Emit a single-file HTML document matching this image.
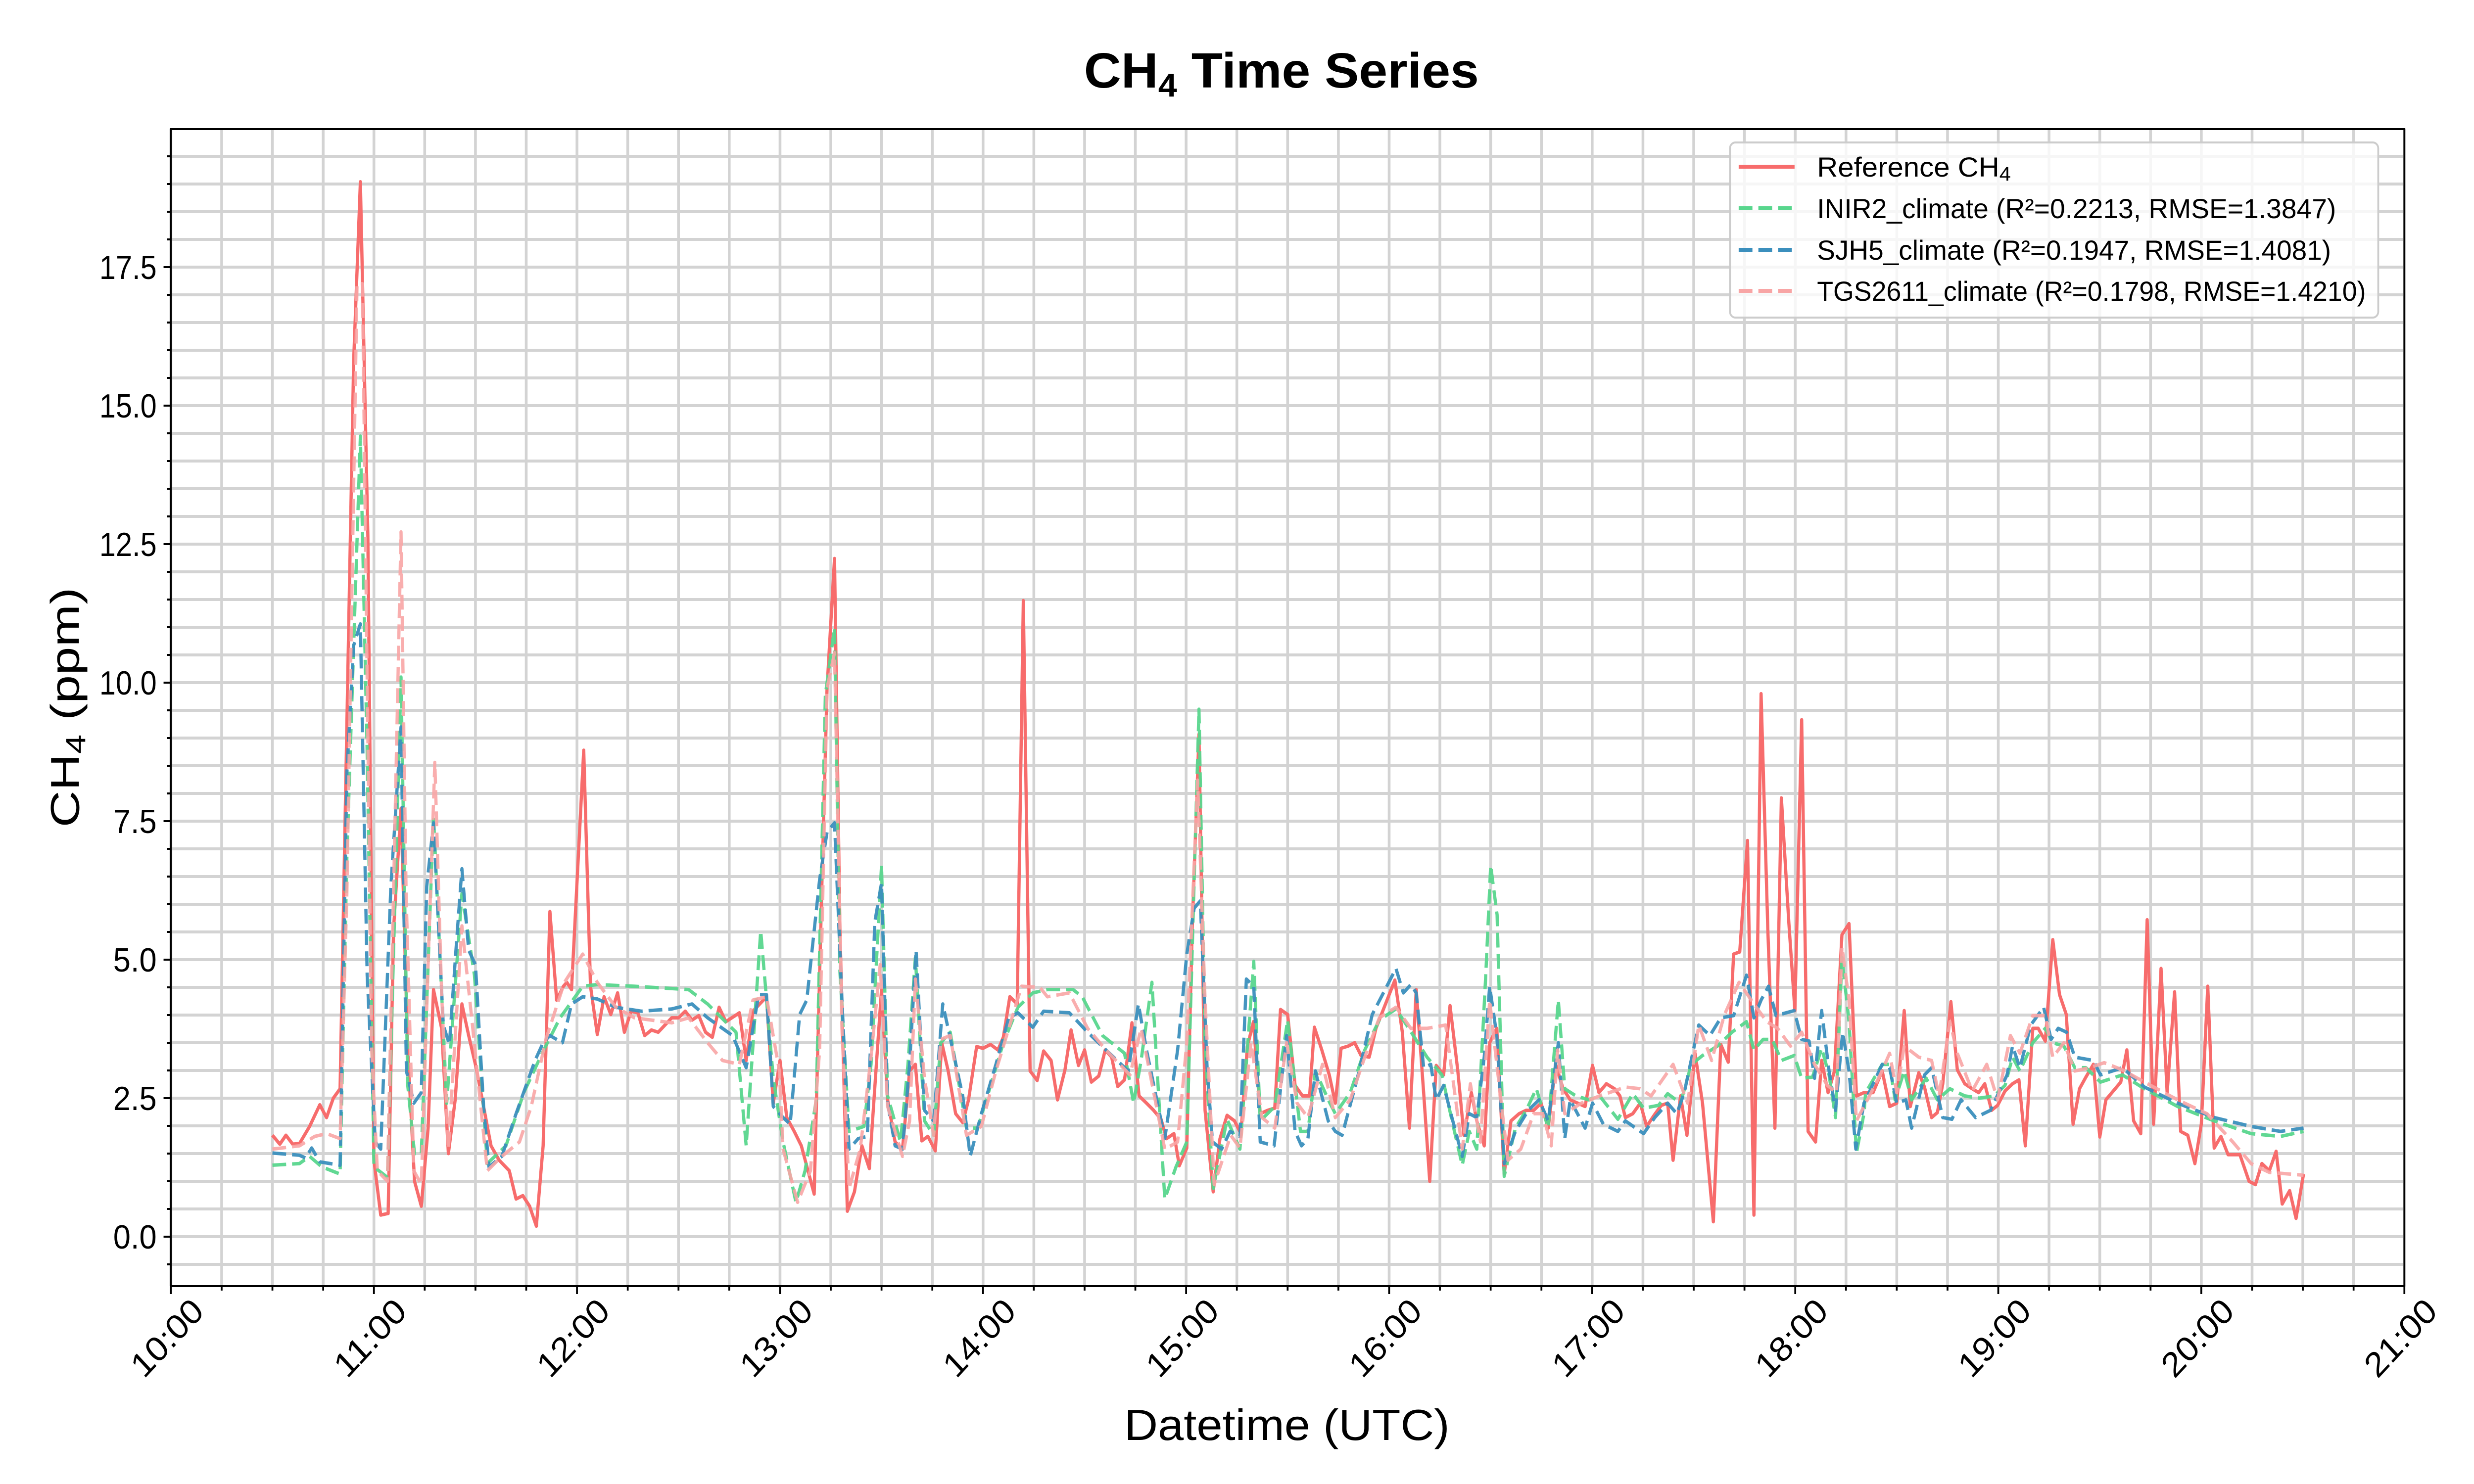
<!DOCTYPE html>
<html><head><meta charset="utf-8"><title>CH4 Time Series</title>
<style>
html,body{margin:0;padding:0;background:#fff;overflow:hidden;width:100%;height:100%;}
svg#chart{display:block;position:fixed;left:0;top:0;width:100vw;height:100vh;}
text{font-family:"Liberation Sans",Arial,sans-serif;fill:#000;}
</style></head>
<body>
<svg id="chart" xmlns="http://www.w3.org/2000/svg" width="5400" height="3000" viewBox="0 0 5400 3000" preserveAspectRatio="none">
<rect x="0" y="0" width="5400" height="3000" fill="#fff"/>
<g id="grid"></g>
<g id="series"></g>
<g id="axes"></g>
<text x="2797" y="177" font-size="100" font-weight="bold" text-anchor="middle" textLength="862" lengthAdjust="spacingAndGlyphs">CH<tspan font-size="66" dy="18">4</tspan><tspan dy="-18"> Time Series</tspan></text>
<text x="2809" y="2911" font-size="88" text-anchor="middle" textLength="710" lengthAdjust="spacingAndGlyphs">Datetime (UTC)</text>
<text transform="translate(172,1430) rotate(-90)" x="0" y="0" font-size="88" text-anchor="middle" textLength="485" lengthAdjust="spacingAndGlyphs">CH<tspan font-size="60" dy="14">4</tspan><tspan dy="-14"> (ppm)</tspan></text>
<g id="legend">
<rect x="3776" y="288" width="1415" height="354" rx="12" fill="#fff" fill-opacity="0.8" stroke="#cccccc" stroke-width="4"/>
<line x1="3795" y1="337" x2="3917" y2="337" stroke="#f76c6c" stroke-width="8"/>
<text x="3966" y="357" font-size="56" textLength="423" lengthAdjust="spacingAndGlyphs">Reference CH<tspan font-size="40" dy="8">4</tspan></text>
<line x1="3795" y1="421" x2="3917" y2="421" stroke="#58d68d" stroke-width="8" stroke-dasharray="30,13"/>
<text x="3966" y="441" font-size="56" textLength="1133" lengthAdjust="spacingAndGlyphs">INIR2_climate (R²=0.2213, RMSE=1.3847)</text>
<line x1="3795" y1="505" x2="3917" y2="505" stroke="#3b8fbd" stroke-width="8" stroke-dasharray="30,13"/>
<text x="3966" y="525" font-size="56" textLength="1122" lengthAdjust="spacingAndGlyphs">SJH5_climate (R²=0.1947, RMSE=1.4081)</text>
<line x1="3795" y1="588" x2="3917" y2="588" stroke="#f8a5a5" stroke-width="8" stroke-dasharray="30,13"/>
<text x="3966" y="608" font-size="56" textLength="1198" lengthAdjust="spacingAndGlyphs">TGS2611_climate (R²=0.1798, RMSE=1.4210)</text>
</g>
</svg>
<script>
// ---- data (time = minutes after 10:30 UTC, values = ppm) ----
const xTickLabels = ["10:00","11:00","12:00","13:00","14:00","15:00","16:00","17:00","18:00","19:00","20:00","21:00"];
const yTickLabels = ["0.0","2.5","5.0","7.5","10.0","12.5","15.0","17.5"];
const yTickValues = [0,2.5,5,7.5,10,12.5,15,17.5];

const refTimes = [0,2.2,4,6,8,11,14,16,18,20,24,26,28.2,30,32,34.2,35.8,38,40,42,44,46,47.6,50,52,54,56,58,60.2,62.4,64.6,67,70,72,74,76,78,80,82,84,86,87,88.4,92,94,96,98,100,102,104,106,108,110,112,114,118,120,122,124,126,128,130,132,134,138,140,142,146,148,150,
152,154.2,156.3,160.1,162.3,163.9,166.1,167.7,169.9,172,174.2,176.4,178.2,180,181.8,184,186.2,188.3,190,191.9,193.7,195.9,197.8,199.7,201.9,204,205.7,208.1,210,212.2,214.4,216,217.9,220.1,221.9,223.9,226,227.9,230.1,232,234.2,236,238.2,240,242,244.2,246.1,248,249.8,251.8,254,256.1,258.3,260.4,262.6,264.2,266.4,268,270.2,271.8,273.8,275.6,278,280,282.1,284.3,286.2,288.1,289.9,291.9,294.1,296.2,297.9,300,302.2,304.4,306.5,307.9,310.1,312.3,
314.1,315.8,317.9,319.8,321.7,324.1,326.1,331.7,333.9,336,338,340.2,342,343.9,346.1,348,350.3,352.1,354.3,355.9,358.1,359.7,361.8,364,366,368.4,370.5,372.7,374.9,377,379.2,381.4,383.5,385.7,387.9,390.1,392,394.2,396.6,398.2,399.8,402,404.2,406.1,408.3,410.4,412.3,413.9,416.1,418,420.4,422.6,425.8,428,430.2,431.8,433.6,435.9,437.8,439.9,441.9,444,445.9,448.1,449.9,451.9,453.8,456,457.8,459.7,461.6,463.8,465.9,468.1,470.3,
470.8,473,475.7,477.9,480,482.2,484,486.5,488.2,490.3,492,493.6,496,497.9,500.1,502.3,504.2,506,508,509.8,512,514.2,516.1,518,520.2,521.8,523.9,526.1,528.1,530.1,532.1,534,535.9,538.1,540,541.8,544,546.2,548,550,552.1,554,555.9,558.1,559.9,562.1,563.9,566,568.1,570,571.9,573.8,575.8,577.9,581.4,584.1,586,587.9,590.1,592.1,593.9,596.1,598,600.2];
const refValues = [1.83,1.67,1.83,1.67,1.68,1.99,2.38,2.15,2.5,2.67,15.8,19.04,12.66,1.38,0.39,0.42,5.55,7.73,3.37,1.0,0.55,1.96,4.46,3.76,1.5,2.47,4.2,3.63,3.05,2.35,1.64,1.38,1.19,0.68,0.74,0.55,0.19,1.64,5.87,4.27,4.52,4.59,4.46,8.78,4.52,3.65,4.33,4.01,4.4,3.69,4.07,4.04,3.63,3.73,3.69,3.95,3.95,4.07,3.91,3.99,3.69,3.6,4.14,3.88,4.04,3.18,4.07,4.33,2.41,3.18,
2.15,1.9,1.64,0.77,6.19,9.9,12.24,5.55,0.46,0.81,1.64,1.23,2.86,4.46,2.47,1.71,1.58,2.99,3.11,1.73,1.81,1.55,3.5,2.99,2.22,2.06,2.47,3.43,3.4,3.47,3.37,3.6,4.33,4.2,11.48,2.99,2.82,3.35,3.18,2.47,3.01,3.73,3.09,3.37,2.79,2.9,3.37,3.24,2.71,2.83,3.86,2.54,2.41,2.28,2.12,1.77,1.86,1.28,1.6,5.55,9.07,2.28,0.81,1.77,2.19,2.09,1.86,3.43,3.88,2.22,2.28,2.32,4.1,4.01,2.73,2.54,2.54,3.78,3.37,2.92,
2.41,3.4,3.44,3.5,3.27,3.24,3.76,4.63,3.69,1.96,4.46,2.6,1.0,3.09,2.92,4.17,2.99,1.83,2.6,2.09,1.64,3.5,3.76,1.13,2.09,2.22,2.28,2.28,2.41,1.96,3.11,2.67,2.47,2.41,2.35,3.09,2.6,2.76,2.67,2.54,2.15,2.22,2.41,1.99,2.19,2.37,2.41,1.38,2.54,1.83,3.31,2.41,0.27,3.47,3.15,5.1,5.14,7.15,0.39,9.8,5.55,1.96,7.92,5.68,4.08,9.33,1.9,1.71,3.18,2.6,2.99,5.45,5.65,2.54,2.6,
2.6,2.6,2.99,2.35,2.41,4.08,2.35,2.96,2.7,2.15,2.24,2.76,4.24,3.01,2.76,2.67,2.6,2.76,2.28,2.37,2.63,2.76,2.83,1.64,3.76,3.76,3.53,5.36,4.37,4.01,2.03,2.67,2.88,3.11,1.8,2.47,2.63,2.79,3.37,2.09,1.86,5.72,2.03,4.84,2.6,4.42,1.9,1.83,1.32,2.03,4.52,1.6,1.81,1.48,1.48,1.0,0.94,1.32,1.19,1.54,0.59,0.83,0.33,1.13];

const inirTimes = [0,8,11,14.6,20,22,26,28,30,34,38,40,42,44,47.6,51.5,56,59.7,63.5,69,74.3,79.7,85,91.7,96,106.9,123,128.6,137,140,144.3,148,
150.9,154.7,157.4,160.7,163.4,166.1,167.7,170.4,174.8,176.9,180,181.8,185.6,187.8,190,192.7,195.4,197.5,200.3,205.1,208.4,211.6,216,220.3,224.7,229,236.6,239.3,245.3,251.8,254.5,256.7,259.9,263.7,267,270.2,273.8,275.6,278,282.1,285.9,290,291.9,296.2,300,303.8,306,308.2,312.5,
314.1,318.5,322.8,327.1,332,335.8,341.2,345.6,348.8,351.6,353.7,355.9,358.6,360,361.9,364,367.3,370.5,373.5,377,380,381.9,385.2,389,392.2,397.6,402,405.2,409.6,412.3,416.1,419.3,422.6,427,431.3,435.6,437.8,440.5,443.2,445.9,449.7,451.9,455.1,457.8,460,461.9,463.8,465.9,468.1,470.3,
470.8,475.7,477.9,479.5,482.2,484.4,488.7,492,495.7,500.1,504.4,508.8,512,514.2,516.4,520.2,523.9,526.1,529.4,532.6,535.9,540.2,546.7,553.2,563,573.8,584.7,593.4,600.2];
const inirValues = [1.29,1.32,1.45,1.26,1.13,6.83,14.45,8.75,1.26,1.07,10.1,2.73,1.5,1.5,7.6,2.41,6.19,4.72,1.32,1.64,2.6,3.31,3.95,4.52,4.55,4.52,4.46,4.2,3.69,1.64,5.52,2.86,
1.71,0.62,1.19,2.47,9.78,10.99,4.78,1.9,1.99,3.11,6.7,2.54,1.71,3.11,5.04,2.09,1.83,3.5,3.69,1.96,1.96,2.6,3.5,4.14,4.4,4.46,4.46,4.33,3.63,3.31,2.41,3.18,4.59,0.68,1.26,1.71,9.52,3.5,0.87,2.12,1.58,4.97,2.09,2.35,3.91,1.9,1.9,2.99,2.41,
2.22,2.6,3.37,3.91,4.11,3.76,3.24,2.92,2.03,1.29,1.9,1.58,4.78,6.7,5.81,1.09,1.96,2.28,2.67,1.96,4.27,2.67,2.54,2.47,2.54,2.12,2.58,2.32,2.37,2.58,2.41,3.11,3.27,3.44,3.69,3.88,3.37,3.56,3.56,3.18,3.27,2.86,2.88,3.4,2.92,2.15,5.04,3.88,1.51,2.22,
2.6,3.11,3.11,2.47,2.99,2.47,2.86,2.47,2.67,2.54,2.5,2.54,2.73,3.24,2.99,3.5,3.76,3.5,3.44,3.05,3.05,2.79,2.92,2.67,2.35,2.09,1.86,1.81,1.9];

const sjhTimes = [0,8,9.8,11.6,14,20,22,24,26,28,30.4,32,35,38,39.6,41.8,44,45.6,47.6,50.5,52.3,54.3,56,58,60,62.4,64,67.8,72,77.6,80,82,85.7,88.4,91.7,96,101.5,109,118,124,128.6,136,140,143.7,146,148,
150.9,153,155.8,157.9,161.7,163.9,166.1,168.3,170.4,173.1,175.8,178,180,181.8,184,186.2,188.3,190.2,192.7,195.4,198.1,200.8,204,206.2,209.5,213.8,217.6,220.3,224.7,227.9,235.5,240.9,246.3,252.9,255.9,258.3,263.7,267.5,270.2,272.4,274.2,276.2,277.8,280.5,283,285.9,287.8,290,291.9,296,299.7,302.2,304.1,306,308.2,312,
314.1,316.1,320.6,325,332,334.2,336.4,338,340.2,342.3,343.9,346.1,348.8,351.6,353.7,355.9,358.1,359.7,361.8,364,367.3,371.1,374.3,377,380,381.9,383.5,387.9,390.1,393.3,397.6,399.8,405.2,408.5,412.3,415,417.2,421.5,424.8,428,431.8,435.6,437.8,439.9,442.1,444.3,449.7,451.9,454.1,455.7,457.8,460,461.9,464,465.9,467.9,470.3,
470.8,475.7,477.9,480,482.7,484.4,488.2,490.3,493.6,496.3,499,503.3,507.7,512.6,514.2,516.4,519.6,523.4,525.6,527.7,530.2,532.6,538.1,540.2,546.7,553.2,563,573.8,584.7,593.4,600.2];
const sjhValues = [1.51,1.47,1.42,1.6,1.35,1.29,8.37,10.67,11.06,4.72,1.71,1.58,6.32,9.2,2.99,2.41,2.6,6.32,7.47,3.82,3.47,5.23,6.64,5.17,4.91,2.35,1.26,1.45,2.22,3.18,3.5,3.63,3.5,4.2,4.33,4.29,4.14,4.07,4.11,4.2,3.95,3.63,3.05,4.37,4.37,2.35,
2.15,2.03,4.01,4.27,6.45,7.3,7.47,4.27,1.58,1.77,1.81,5.68,6.38,2.41,1.64,1.58,3.11,5.17,2.28,2.09,4.2,3.44,2.54,1.45,2.22,3.11,3.95,4.04,3.78,4.07,4.04,3.69,3.37,2.99,4.2,3.37,1.77,3.37,5.1,5.93,6.06,3.05,1.71,1.58,1.9,1.81,4.65,4.52,1.71,1.64,3.63,1.9,1.64,1.77,2.99,2.09,
1.9,1.83,2.86,4.01,4.84,4.4,4.55,4.4,3.05,3.11,2.47,2.73,2.09,1.45,2.22,2.15,3.24,4.52,3.63,1.32,1.9,2.28,2.47,2.09,3.5,1.77,2.47,1.96,2.41,2.03,1.9,2.09,1.86,2.15,2.41,2.22,2.6,3.82,3.63,3.95,3.99,4.72,3.95,4.27,4.52,3.99,4.08,3.56,3.53,2.86,4.08,2.99,2.28,3.69,2.99,1.58,2.41,
2.47,3.11,3.05,2.41,2.47,1.96,2.92,3.05,2.15,2.12,2.47,2.15,2.28,2.92,3.44,3.05,3.82,4.14,3.56,3.76,3.69,3.24,3.18,2.92,3.05,2.7,2.41,2.15,1.99,1.9,1.96];

const tgsTimes = [0,8,12.5,16,20,22,25,26.6,29.3,31,34,36,38,39.5,41.8,44,46,48,50,52,56,59,63.5,67.8,73,76.5,80.8,86.3,91.7,96,101.5,107,118,123,128.6,133,138,142,146,149.8,
150.9,155.2,159,161.7,163.9,166.1,168.3,170.4,173.7,176.9,179.6,181.8,186.2,188.3,190,192.7,195.4,197.5,200.3,205.1,209.5,213.8,217.6,221.4,226.8,229,235.5,240.9,246.3,253.4,256.7,263.7,267.5,270.2,273.4,275.6,278.3,283.2,285.9,289.2,292.4,296.2,299.7,302.8,306,310.3,
314.1,318.5,322.8,327.1,332,336.4,341.2,346.7,351.6,354,357,359.7,361.8,365.1,368.9,372.7,375.4,377.9,379.8,381.9,386.8,392.2,399.8,404.2,407.4,413.9,418.2,421.5,425.3,429.1,433.4,437.8,441.6,444.8,448.6,451.9,455.7,459.5,462.2,463.8,465.9,468.1,
470.8,475.1,477.9,480,482.2,486.5,490.3,492.5,495.7,497.9,502.3,506.6,509.8,513.6,516.4,520.2,523.9,526.1,529.4,532.6,537,541.3,546.7,553.2,563,571.7,579.3,584.7,590.1,600.2];
const tgsValues = [1.58,1.64,1.81,1.86,1.77,6.19,17.2,17.2,3.44,1.19,1.0,6.83,12.72,6.19,1.19,0.94,4.91,8.56,4.4,1.58,5.61,3.88,1.19,1.45,1.71,2.35,3.56,4.59,5.1,4.59,4.14,3.95,3.86,3.95,3.5,3.18,3.11,4.27,4.33,2.99,
1.58,0.62,1.19,3.37,9.9,10.54,3.76,0.87,1.58,3.24,4.91,2.35,1.45,2.09,4.65,2.86,1.83,3.56,3.63,1.83,1.99,2.99,3.76,4.52,4.5,4.33,4.4,3.76,3.37,2.92,3.76,1.58,1.71,3.5,8.24,4.27,0.94,1.83,1.6,3.5,2.15,1.96,3.5,2.41,2.15,3.11,
2.15,2.47,3.24,3.95,4.14,3.76,3.76,3.82,1.58,2.76,1.71,4.27,3.11,1.38,1.58,2.22,2.22,1.64,3.37,2.22,2.41,2.54,2.7,2.67,2.54,3.11,2.41,3.82,3.18,4.01,4.59,4.2,3.88,3.76,3.44,3.69,3.11,2.73,2.6,5.23,4.27,2.09,
2.41,2.92,3.31,2.6,3.44,3.24,3.18,2.54,3.88,3.31,2.63,3.11,2.47,3.63,3.31,3.99,3.99,3.24,3.5,2.99,3.05,3.14,3.01,2.79,2.47,2.22,1.71,1.32,1.16,1.11];

// ---- scales ----
const PL = 373, PR = 5248, PT = 261, PB = 2600;
const Y0 = 2500, PXU = 112;
const X_MIN = 0, X_MAX = 660; // minutes after 10:00
const START_OFFSET = 30;      // series time origin 10:30
function xScale(m){ return PL + (m - X_MIN) / (X_MAX - X_MIN) * (PR - PL); }
function xSeries(t){ return xScale(t + START_OFFSET); }
function yScale(v){ return Y0 - v * PXU; }

const NS = "http://www.w3.org/2000/svg";
const grid = document.getElementById('grid');
const axes = document.getElementById('axes');
const seriesG = document.getElementById('series');
function mk(tag, attrs, parent){
  const e = document.createElementNS(NS, tag);
  for (const k in attrs) e.setAttribute(k, attrs[k]);
  parent.appendChild(e);
  return e;
}

// gridlines
for (let m = 0; m <= 660; m += 15) {
  const x = xScale(m);
  const l = mk('line', {x1:x, y1:PT, x2:x, y2:PB, stroke:'#d3d3d3', 'stroke-width':6}, grid);
  
  
}
for (let k = -1; k <= 39; k++) {
  const v = k * 0.5;
  const y = yScale(v);
  if (y < PT || y > PB) continue;
  const l = mk('line', {x1:PL, y1:y, x2:PR, y2:y, stroke:'#d3d3d3', 'stroke-width':6}, grid);
  
  
}

// series
function drawSeries(times, values, color, dashed, name, op){
  let d = '';
  for (let i = 0; i < times.length; i++) {
    d += (i ? 'L' : 'M') + xSeries(times[i]).toFixed(1) + ',' + yScale(values[i]).toFixed(1);
  }
  const p = mk('path', {d:d, fill:'none', stroke:color, 'stroke-width':7, 'stroke-linejoin':'round', 'stroke-opacity':op}, seriesG);
  if (dashed) p.setAttribute('stroke-dasharray', '30,13');
  
  
}
drawSeries(refTimes, refValues, '#f76c6c', false, 'reference-ch4-line', 1);
drawSeries(inirTimes, inirValues, '#58d68d', true, 'inir2-climate-line', 0.95);
drawSeries(sjhTimes, sjhValues, '#3b8fbd', true, 'sjh5-climate-line', 0.95);
drawSeries(tgsTimes, tgsValues, '#f8a5a5', true, 'tgs2611-climate-line', 0.9);

// frame
const frame = mk('rect', {x:PL, y:PT, width:PR-PL, height:PB-PT, fill:'none', stroke:'#000', 'stroke-width':4}, axes);



// x ticks
for (let m = 0; m <= 660; m += 15) {
  const x = xScale(m);
  const major = m % 60 === 0;
  const t = mk('line', {x1:x, y1:PB, x2:x, y2:PB + (major ? 16 : 9), stroke:'#000', 'stroke-width':4}, axes);
  
  
}
xTickLabels.forEach((lab, i) => {
  const x = xScale(i * 60);
  const t = mk('text', {x:0, y:0, 'font-size':70, 'text-anchor':'middle', 'dominant-baseline':'central', textLength:190, lengthAdjust:'spacingAndGlyphs', transform:'translate(' + (x - 8) + ',2705) rotate(-45)'}, axes);
  t.textContent = lab;
  
  
});

// y ticks
for (let k = -1; k <= 39; k++) {
  const v = k * 0.5;
  const y = yScale(v);
  if (y < PT || y > PB) continue;
  const major = k % 5 === 0;
  const t = mk('line', {x1:PL - (major ? 16 : 9), y1:y, x2:PL, y2:y, stroke:'#000', 'stroke-width':4}, axes);
  
  
}
yTickLabels.forEach((lab, i) => {
  const y = yScale(yTickValues[i]);
  const t = mk('text', {x:342, y:y + 24, 'font-size':68, 'text-anchor':'end', textLength: lab.length > 3 ? 125 : 95, lengthAdjust:'spacingAndGlyphs'}, axes);
  t.textContent = lab;
  
  
});
</script>
</body></html>
